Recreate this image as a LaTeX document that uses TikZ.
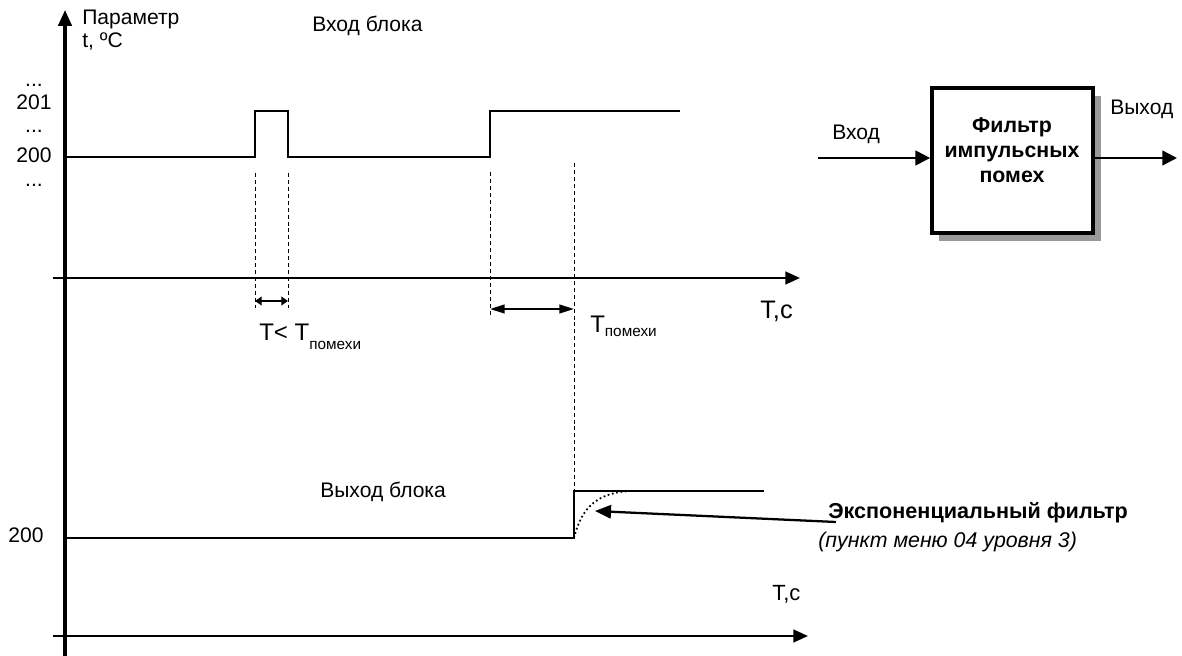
\documentclass[tikz,border=0pt]{standalone}
\usepackage{fontspec}
\setmainfont{Liberation Sans}
\usetikzlibrary{arrows.meta,shadows}
\newcommand\Tsub[1]{\raisebox{#1}{\fontsize{11.5}{12}\selectfont помехи}}

\begin{document}
\begin{tikzpicture}[
  x=0.75pt, y=-0.75pt,
  font=\fontsize{15.8}{18.75}\selectfont,
  yaxis/.style={line width=2.6pt, -{Triangle[length=12pt,width=10pt]}},
  xaxis/.style={line width=1.9pt, -{Triangle[length=11pt,width=9.5pt]}},
  signal/.style={line width=1.7pt},
  guide/.style={line width=0.75pt, dash pattern=on 3pt off 2.2pt},
  interval/.style={line width=1.7pt,
    {Triangle[length=#1,width=6.5pt]}-{Triangle[length=#1,width=6.5pt]}},
  flow/.style={line width=1.7pt, -{Triangle[length=11pt,width=11pt]}},
  lbl/.style={anchor=base west, inner sep=0pt},
  tick/.style={anchor=base, inner sep=0pt},
  big/.style={font=\fontsize{18}{21}\selectfont},
  filterbox/.style={
    rectangle, draw, line width=2.6pt, fill=white,
    minimum width=121pt, minimum height=109pt,
    drop shadow={shadow xshift=5.5pt, shadow yshift=-6pt, fill=black!40, opacity=1}
  }
]
\useasboundingbox (0,0) rectangle (1182,656);

% axes
\draw[yaxis] (65,656) -- (65,10);
\draw[xaxis] (53,278) -- (800,278);
\draw[xaxis] (53,636) -- (808,636);

% input of the block
\draw[signal] (65,157) -- (255,157) -- (255,111) -- (288,111) -- (288,157)
  -- (490,157) -- (490,111) -- (680,111);
\draw[guide] (255,173) -- (255,308);
\draw[guide] (288,173) -- (288,308);
\draw[guide] (490,172) -- (490,316);
\draw[guide] (574,163) -- (574,491);
\draw[interval=5pt] (255,301) -- (288,301);
\draw[interval=11pt] (490,309) -- (574,309);

% output of the block
\draw[signal] (65,538) -- (574,538) -- (574,491) -- (764,491);
\draw[line width=1.3pt, dotted] (574,538) .. controls (582,505) and (600,492) .. (632,491);

\node[lbl] (param) at (82,25) {Параметр};
\node[lbl] (unit) at (82,48) {t, ºC};
\node[lbl] (intitle) at (312,32) {Вход блока};
\node[lbl] (outtitle) at (320,497) {Выход блока};

\node[tick] (dots1) at (34,87) {...};
\node[tick] (v201) at (34,110) {201};
\node[tick] (dots2) at (34,133) {...};
\node[tick] (v200) at (34,163) {200};
\node[tick] (dots3) at (34,187) {...};
\node[tick] (w200) at (26,542) {200};

\node[lbl, big] (tless) at (259,340) {T< T\Tsub{-7pt}};
\node[lbl, big] (tnoise) at (590,332) {T\Tsub{-3pt}};
\node[lbl, font=\fontsize{19}{21}\selectfont] (tc1) at (760,318) {T,c};
\node[lbl, font=\fontsize{16.5}{20}\selectfont] (tc2) at (772,600) {T,c};

% filter block
\node[filterbox] (filter) at (1012.5,160.5) {};
\node[font=\fontsize{16}{18.75}\selectfont\bfseries, align=center] (ftext) at (1012,150)
  {Фильтр\\импульсных\\помех};
\coordinate (in) at (818,158);
\coordinate (out) at (1177,158);
\draw[flow] (in) -- (in -| filter.west);
\draw[flow] (filter.east |- out) -- (out);
\node[lbl] (inlbl) at (832,140) {Вход};
\node[lbl] (outlbl) at (1110,115) {Выход};

% exponential filter note
\node[lbl, font=\fontsize{16.2}{18.75}\selectfont\bfseries] (expo) at (828,518)
  {Экспоненциальный фильтр};
\node[lbl, font=\fontsize{16}{18.75}\selectfont\itshape] (menu) at (818,547)
  {(пункт меню 04 уровня 3)};
\coordinate (curve) at (595,511);
\draw[flow, -{Triangle[length=12pt,width=10pt]}] ([xshift=6pt,yshift=-3pt]expo.base west) -- (curve);
\end{tikzpicture}
\end{document}
